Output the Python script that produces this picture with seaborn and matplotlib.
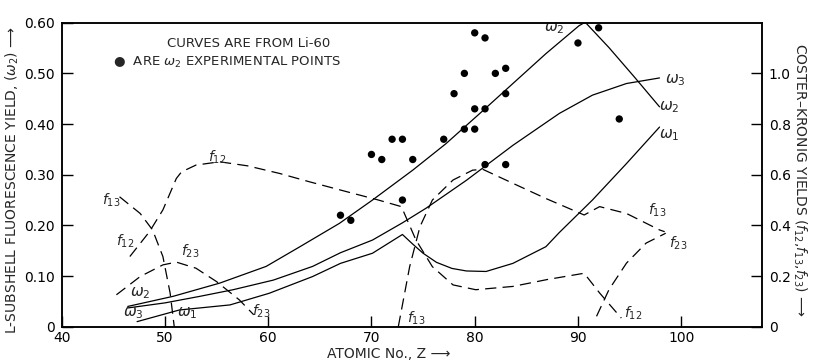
import matplotlib
matplotlib.use("Agg")
import matplotlib.pyplot as plt
import seaborn as sns

# fluorescence yields (left axis)
w2_z = [46.4, 50.8, 55.3, 59.8, 63.0, 66.9, 70.1, 74.0, 77.2, 80.5, 83.7, 86.9, 90.1, 90.7, 93.0, 95.5, 97.9]
w2_y = [0.040, 0.060, 0.086, 0.119, 0.157, 0.204, 0.250, 0.309, 0.361, 0.421, 0.480, 0.539, 0.594, 0.601, 0.551, 0.492, 0.434]

w3_z = [46.4, 50.0, 53.4, 56.6, 60.5, 64.3, 67.0, 70.1, 73.0, 75.3, 79.2, 83.7, 88.2, 91.4, 94.7, 97.9]
w3_y = [0.037, 0.047, 0.060, 0.073, 0.092, 0.119, 0.146, 0.171, 0.205, 0.234, 0.289, 0.358, 0.421, 0.457, 0.480, 0.491]

w1_z = [47.3, 51.4, 56.3, 60.1, 64.3, 67.0, 70.1, 73.0, 74.0, 75.0, 76.3, 77.8, 79.2, 81.1, 83.7, 86.9, 88.2, 91.4, 94.7, 97.9]
w1_y = [0.010, 0.033, 0.043, 0.066, 0.099, 0.125, 0.145, 0.182, 0.163, 0.145, 0.127, 0.115, 0.110, 0.109, 0.125, 0.158, 0.186, 0.250, 0.322, 0.394]

# experimental omega_2 points
exp_z = [67, 68, 70, 71, 72, 73, 74, 73, 77, 78, 79, 79, 80, 81, 80, 80, 81, 81, 82, 83, 83, 83, 90, 92, 94]
exp_y = [0.22, 0.21, 0.34, 0.33, 0.37, 0.37, 0.33, 0.25, 0.37, 0.46, 0.50, 0.39, 0.58, 0.57, 0.43, 0.39,
         0.43, 0.32, 0.50, 0.51, 0.46, 0.32, 0.56, 0.59, 0.41]

# Coster-Kronig yields (right axis)
f12_z = [46.6, 48.5, 49.8, 51.1, 51.6, 53.0, 55.3, 58.0, 61.1, 64.0, 67.6, 70.5, 72.9, 74.3, 75.9, 77.9,
         80.1, 83.7, 87.0, 90.6, 92.1, 94.2]
f12_y = [0.277, 0.375, 0.461, 0.585, 0.611, 0.638, 0.651, 0.635, 0.605, 0.572, 0.533, 0.502, 0.474, 0.343,
         0.237, 0.165, 0.146, 0.159, 0.186, 0.211, 0.133, 0.034]

f13a_z = [45.6, 47.6, 48.8, 49.8, 50.5, 50.9]
f13a_y = [0.513, 0.447, 0.382, 0.277, 0.133, 0.0]
f13b_z = [72.6, 73.7, 74.7, 75.9, 77.9, 79.8, 80.8, 83.7, 86.9, 90.6, 92.1, 94.7, 97.9, 98.4]
f13b_y = [0.0, 0.237, 0.395, 0.500, 0.579, 0.618, 0.621, 0.566, 0.506, 0.441, 0.474, 0.447, 0.382, 0.375]

f23a_z = [45.3, 47.6, 49.8, 51.1, 53.0, 55.0, 57.2, 58.6]
f23a_y = [0.126, 0.198, 0.244, 0.255, 0.231, 0.178, 0.106, 0.047]
f23b_z = [91.8, 93.0, 94.7, 96.6, 98.5]
f23b_y = [0.041, 0.146, 0.251, 0.330, 0.369]

x_ticks = [40, 50, 60, 70, 80, 90, 100]
left_ticks = [0, 0.1, 0.2, 0.3, 0.4, 0.5, 0.6]
left_labels = ["0", "0.10", "0.20", "0.30", "0.40", "0.50", "0.60"]
right_ticks = [0, 0.2, 0.4, 0.6, 0.8, 1.0]
right_labels = ["0", "0.2", "0.4", "0.6", "0.8", "1.0"]

sns.set_style("ticks")
plt.rcParams["font.family"] = ["DejaVu Sans"]
plt.rcParams["mathtext.fontset"] = "dejavusans"

fig = plt.figure(figsize=(8.14, 3.6), dpi=100)
ax = fig.add_axes([0.0758, 0.0925, 0.86, 0.8444])
ax2 = ax.twinx()

solid = dict(color="black", lw=0.9, sort=False, estimator=None, ax=ax)
sns.lineplot(x=w2_z, y=w2_y, **solid)
sns.lineplot(x=w3_z, y=w3_y, **solid)
sns.lineplot(x=w1_z, y=w1_y, **solid)
sns.scatterplot(x=exp_z, y=exp_y, color="black", s=28, edgecolor="none", ax=ax)

dash = dict(color="black", lw=0.9, sort=False, estimator=None, ax=ax2, linestyle=(0, (9, 5)))
for zz, yy in [(f12_z, f12_y), (f13a_z, f13a_y), (f13b_z, f13b_y), (f23a_z, f23a_y), (f23b_z, f23b_y)]:
    sns.lineplot(x=zz, y=yy, **dash)

ax.set_xlim(40, 107.8)
ax.set_ylim(0, 0.6)
ax2.set_ylim(0, 1.2)
ax.set_xticks(x_ticks)
ax.set_xticklabels([str(t) for t in x_ticks])
ax.set_yticks(left_ticks)
ax.set_yticklabels(left_labels)
ax2.set_yticks(right_ticks)
ax2.set_yticklabels(right_labels)

for a in (ax, ax2):
    a.tick_params(direction="in", length=8, width=1, labelsize=10, colors="black", pad=5)
    for s in a.spines.values():
        s.set_visible(True)
        s.set_linewidth(1.1)
        s.set_color("black")
ax.tick_params(axis="x", pad=3)

# curve labels
lab = dict(ha="center", va="center", fontsize=11)
ax.text(87.7, 0.589, r"$\omega_2$", **lab)
ax.text(99.4, 0.486, r"$\omega_3$", **lab)
ax.text(98.8, 0.433, r"$\omega_2$", **lab)
ax.text(98.8, 0.378, r"$\omega_1$", **lab)
ax.text(47.6, 0.066, r"$\omega_2$", **lab)
ax.text(46.9, 0.027, r"$\omega_3$", **lab)
ax.text(52.2, 0.027, r"$\omega_1$", **lab)

flab = dict(ha="center", va="center", fontsize=10)
ax2.text(55.1, 0.670, r"$f_{12}$", **flab)
ax2.text(44.8, 0.500, r"$f_{13}$", **flab)
ax2.text(46.1, 0.336, r"$f_{12}$", **flab)
ax2.text(52.4, 0.296, r"$f_{23}$", **flab)
ax2.text(59.3, 0.060, r"$f_{23}$", **flab)
ax2.text(74.3, 0.034, r"$f_{13}$", **flab)
ax2.text(97.7, 0.460, r"$f_{13}$", **flab)
ax2.text(99.7, 0.330, r"$f_{23}$", **flab)
ax2.text(95.3, 0.054, r"$f_{12}$", **flab)

ax.text(0.15, 0.931, "CURVES ARE FROM Li-60", transform=ax.transAxes, fontsize=9.5, va="center")
ax.text(0.073, 0.869, "●  ARE $\\omega_2$ EXPERIMENTAL POINTS", transform=ax.transAxes, fontsize=9.5, va="center")

fig.text(0.015, 0.5, "L-SUBSHELL FLUORESCENCE YIELD, ($\\omega_2$) ⟶", rotation=90,
         ha="center", va="center", fontsize=10)
fig.text(0.982, 0.5, "COSTER–KRONIG YIELDS ($f_{12}$,$f_{13}$,$f_{23}$) ⟶", rotation=-90,
         ha="center", va="center", fontsize=10)
fig.text(0.477, 0.018, "ATOMIC No., Z ⟶", ha="center", va="center", fontsize=10)

fig.savefig("out.png", dpi=100)
